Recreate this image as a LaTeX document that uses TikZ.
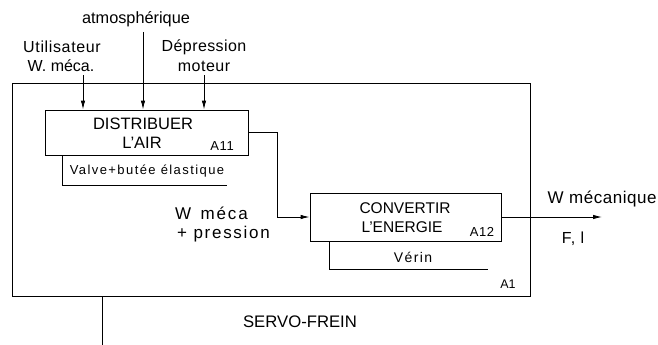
\documentclass[tikz,border=0pt]{standalone}
\usepackage{fontspec}
\setmainfont{Liberation Sans}
\usetikzlibrary{arrows.meta,calc}
\newcommand{\fs}[2]{\fontsize{#1}{#1}\selectfont\addfontfeature{LetterSpace=#2}}
\begin{document}
\begin{tikzpicture}[x=1pt,y=-1pt,
  line width=0.9pt,
  fbox/.style={draw,rectangle,inner sep=0pt},
  arr/.style={-{Latex[length=9pt,width=4.5pt]}},
  txt/.style={inner sep=0pt}]
\useasboundingbox (0,0) rectangle (658,345);
% frame
\node[fbox,minimum width=518pt,minimum height=213pt] (A1) at (271,189.5) {};
% boxes
\node[fbox,minimum width=203pt,minimum height=45pt] (A11) at (146.5,132.5) {};
\node[fbox,minimum width=191pt,minimum height=48pt] (A12) at (405.5,217) {};
% box texts
\node[txt,font=\fs{16.5}{0}] (t11a) at (143,124) {DISTRIBUER};
\node[txt,font=\fs{16.5}{0}] (t11b) at (142,143) {L'AIR};
\node[txt,font=\fs{13}{5}] (n11) at (222,146) {A11};
\node[txt,font=\fs{15.5}{0}] (t12a) at (405,208) {CONVERTIR};
\node[txt,font=\fs{15.5}{0}] (t12b) at (402,227) {L'ENERGIE};
\node[txt,font=\fs{13}{5}] (n12) at (482,232) {A12};
\node[txt,font=\fs{12.5}{0}] (n1) at (508,284) {A1};
% mechanisms
\node[txt,font=\fs{13}{11}] (m11) at (147,171) {Valve+butée élastique};
\draw (A11.south west) ++(18,0) coordinate (m11s) -- ++(0,30) -- ++(164,0);
\node[txt,font=\fs{14}{10}] (m12) at (413,257) {Vérin};
\draw (A12.south west) ++(20,0) coordinate (m12s) -- ++(0,28) -- ++(158,0);
% top inputs
\node[txt,font=\fs{16.3}{0}] (atm) at (136,19) {atmosphérique};
\node[txt,font=\fs{16}{4}] (uti) at (62,47) {Utilisateur};
\node[txt,font=\fs{16}{0}] (wm) at (61,66) {W. méca.};
\node[txt,font=\fs{16}{2.5}] (dep) at (204,47) {Dépression};
\node[txt,font=\fs{16}{3}] (mot) at (204,66) {moteur};
\coordinate (i1) at (83,75);
\coordinate (i2) at (143,32);
\coordinate (i3) at (204,75);
\draw[arr] (i1) -- (i1 |- A11.north);
\draw[arr] (i2) -- (i2 |- A11.north);
\draw[arr] (i3) -- (i3 |- A11.north);
% link A11 -> A12
\coordinate (bend) at (277,217);
\draw[arr] (A11.east) -| (bend) -- (A12.west);
\node[txt,font=\fs{17}{11}] (wmeca) at (211.5,213) {W\ \,méca};
\node[txt,font=\fs{17}{10}] (pres) at (223.5,234) {+\ pression};
% output
\coordinate (out) at (602,217);
\draw[arr] (A12.east) -- (out);
\node[txt,font=\fs{17}{3}] (wmec) at (602,199) {W\,\,mécanique};
\node[txt,font=\fs{16}{6}] (fl) at (573,239) {F,\,\,l};
% bottom mechanism
\coordinate (mech) at (102,345);
\draw (mech) -- (mech |- A1.south);
\node[txt,font=\fs{16.7}{0}] (servo) at (300,322) {SERVO-FREIN};
\end{tikzpicture}
\end{document}
